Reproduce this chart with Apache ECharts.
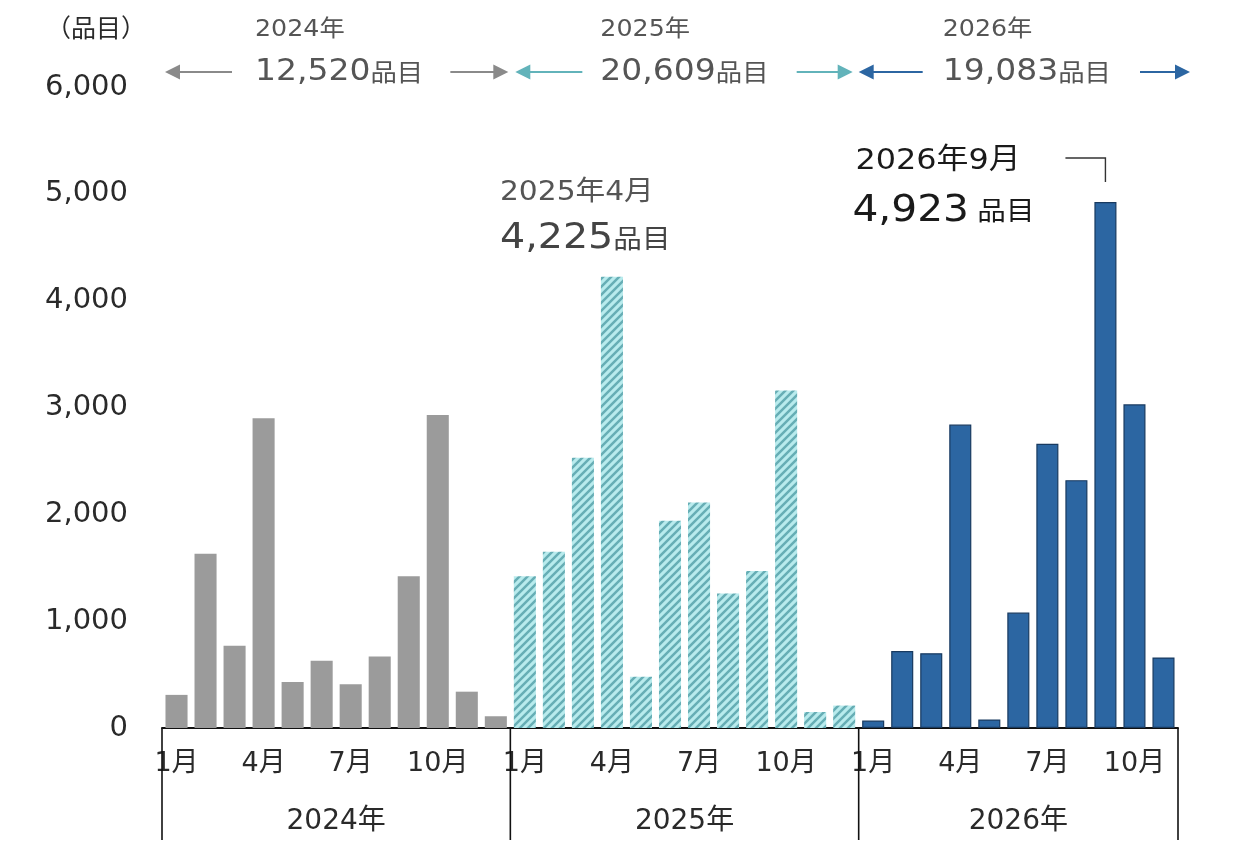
<!DOCTYPE html>
<html>
<head>
<meta charset="utf-8">
<script src="https://cdn.jsdelivr.net/npm/echarts@6/dist/echarts.min.js"></script>
<style>
  html, body { margin: 0; padding: 0; background: #fff; }
  #chart { width: 1240px; height: 864px; }
</style>
</head>
<body>
<div id="chart"></div>
<script>
// Monthly counts (品目)
const years = ["2024年", "2025年", "2026年"];
const yearKeys = ["2024", "2025", "2026"];
const monthLabels = ["1月", "2月", "3月", "4月", "5月", "6月", "7月", "8月", "9月", "10月", "11月", "12月"];
const values2024 = [310, 1630, 770, 2900, 430, 630, 410, 670, 1420, 2930, 340, 110];
const values2025 = [1420, 1650, 2530, 4225, 480, 1940, 2110, 1260, 1470, 3160, 150, 210];
const values2026 = [70, 720, 700, 2840, 80, 1080, 2660, 2320, 4923, 3030, 660];
const yearTotals = ["12,520", "20,609", "19,083"];
const yTicks = { min: 0, max: 6000, interval: 1000 };

// wide latin digits, CJK falls through to Noto
const FONT = '"DejaVu Sans", "Noto Sans CJK JP", sans-serif';
const COLORS = {
  gray: "#9b9b9b",
  grayArrow: "#8a8a8a",
  teal: "#62b3ba",
  tealBase: "#b8ebed",
  tealStripe: "#66aeb5",
  blue: "#2c66a2",
  blueEdge: "#183a60",
  text: "#2a2a2a",
  textGray: "#555",
};
const STRETCH = 1.1; // the reference lettering is a little wider than our fonts

// category keys are unique ("2024-1" ...), labels show the month only
const seriesValues = [values2024, values2025, values2026];
const categories = [];
seriesValues.forEach((vals, y) => {
  vals.forEach((_, m) => categories.push(yearKeys[y] + "-" + (m + 1)));
});

function padded(y) {
  const out = categories.map(() => "-");
  let start = 0;
  for (let i = 0; i < y; i++) start += seriesValues[i].length;
  seriesValues[y].forEach((v, m) => { out[start + m] = v; });
  return out;
}

// diagonal hatch used for the 2025 bars
function hatchPattern() {
  const s = 8;
  const c = document.createElement("canvas");
  c.width = s; c.height = s;
  const ctx = c.getContext("2d");
  ctx.fillStyle = COLORS.tealBase;
  ctx.fillRect(0, 0, s, s);
  ctx.strokeStyle = COLORS.tealStripe;
  ctx.lineWidth = 2.5;
  ctx.beginPath();
  ctx.moveTo(-1, s + 1); ctx.lineTo(s + 1, -1);
  ctx.moveTo(-1, 1); ctx.lineTo(1, -1);
  ctx.moveTo(s - 1, s + 1); ctx.lineTo(s + 1, s - 1);
  ctx.stroke();
  return c;
}

const chart = echarts.init(document.getElementById("chart"));

const barCommon = { type: "bar", stack: "all", barCategoryGap: "24%" };

chart.setOption({
  animation: false,
  textStyle: { fontFamily: FONT },
  grid: { left: 162, right: 62, top: 87, bottom: 136 },
  xAxis: {
    type: "category",
    data: categories,
    axisLine: { lineStyle: { color: "#111", width: 2 } },
    axisTick: { show: false },
    axisLabel: {
      interval: 2,
      margin: 22,
      fontSize: 27,
      color: COLORS.text,
      fontFamily: FONT,
      formatter: (v) => monthLabels[parseInt(v.split("-")[1], 10) - 1],
    },
  },
  yAxis: {
    type: "value",
    min: yTicks.min,
    max: yTicks.max,
    interval: yTicks.interval,
    name: "（品目）",
    nameLocation: "end",
    nameGap: 44,
    nameTextStyle: { fontSize: 25, color: COLORS.text, align: "right", padding: [0, 16, 0, 0], fontFamily: FONT },
    splitLine: { show: false },
    axisLine: { show: false },
    axisTick: { show: false },
    axisLabel: {
      margin: 34,
      fontSize: 29,
      color: COLORS.text,
      fontFamily: FONT,
      formatter: (v) => v.toLocaleString("en-US"),
    },
  },
  series: [
    Object.assign({}, barCommon, { name: years[0], data: padded(0), itemStyle: { color: COLORS.gray } }),
    Object.assign({}, barCommon, { name: years[1], data: padded(1), itemStyle: { color: { image: hatchPattern(), repeat: "repeat" } } }),
    Object.assign({}, barCommon, { name: years[2], data: padded(2), itemStyle: { color: COLORS.blue, borderColor: COLORS.blueEdge, borderWidth: 1.2 } }),
  ],
});

// ---- overlays placed through the axes' own scales ----
const xPx = (i) => chart.convertToPixel({ xAxisIndex: 0 }, categories[i]);
const yPx = (v) => chart.convertToPixel({ yAxisIndex: 0 }, v);
const half = (xPx(1) - xPx(0)) / 2;
const y0 = yPx(0);

const bounds = [];
let idx = 0;
seriesValues.forEach((vals) => { bounds.push(xPx(idx) - half); idx += vals.length; });
bounds.push(xPx(categories.length - 1) + half);

const graphics = [];

function label(x, y, text, style) {
  return {
    type: "text", z: 100, x: x, y: y, scaleX: STRETCH,
    style: Object.assign({ text: text, fontFamily: FONT, align: "left", verticalAlign: "middle" }, style),
  };
}
function richLabel(x, y, num, sep, numSize, unitSize, color) {
  return label(x, y, "{n|" + num + "}" + sep + "{u|品目}", {
    rich: {
      n: { fontSize: numSize, fill: color, fontFamily: FONT },
      u: { fontSize: unitSize, fill: color, fontFamily: FONT, padding: [5, 0, 0, 0] },
    },
  });
}

// year brackets under the axis
bounds.forEach((bx) => {
  graphics.push({
    type: "line", z: 100,
    shape: { x1: bx, y1: y0, x2: bx, y2: y0 + 112 },
    style: { stroke: "#111", lineWidth: 1.6 },
  });
});
years.forEach((text, i) => {
  graphics.push({
    type: "text", z: 100,
    x: (bounds[i] + bounds[i + 1]) / 2, y: y0 + 94,
    style: { text: text, fontSize: 28, fill: COLORS.text, fontFamily: FONT, align: "center", verticalAlign: "middle" },
  });
});

// header arrows with yearly totals
function arrowHead(tipX, y, dir, color) {
  const l = 15, h = 7.5;
  return {
    type: "polygon", z: 100,
    shape: { points: [[tipX, y], [tipX - dir * l, y - h], [tipX - dir * l, y + h]] },
    style: { fill: color },
  };
}
function shaft(x1, x2, y, color) {
  return { type: "line", z: 100, shape: { x1: x1, y1: y, x2: x2, y2: y }, style: { stroke: color, lineWidth: 2.2 } };
}
const arrowY = yPx(yTicks.max) - 15;
const headerColors = [COLORS.grayArrow, COLORS.teal, COLORS.blue];
const headerSpec = [
  // offsets from the year's bounds: left tip, left shaft end, right shaft start, right tip, text left
  { lt: 3, le: 70, rs: -60, rt: -2, tx: 93 },
  { lt: 5, le: 72, rs: -62, rt: -6, tx: 90 },
  { lt: 0, le: 64, rs: -38, rt: 12, tx: 84 },
];
headerSpec.forEach((s, i) => {
  const a = bounds[i], b = bounds[i + 1], c = headerColors[i];
  graphics.push(arrowHead(a + s.lt, arrowY, -1, c));
  graphics.push(shaft(a + s.lt + 14, a + s.le, arrowY, c));
  graphics.push(shaft(b + s.rs, b + s.rt - 14, arrowY, c));
  graphics.push(arrowHead(b + s.rt, arrowY, 1, c));
  graphics.push(label(a + s.tx, arrowY - 42, years[i], { fontSize: 23, fill: COLORS.textGray }));
  graphics.push(richLabel(a + s.tx, arrowY, yearTotals[i], "", 30, 24, COLORS.textGray));
});

// peak callouts
const peak2025 = values2024.length + 3;
const peak2026 = values2024.length + values2025.length + 8;
const p25x = xPx(peak2025), p25y = yPx(values2025[3]);
graphics.push(label(p25x - 112, p25y - 84, "2025年4月", { fontSize: 27, fill: COLORS.textGray }));
graphics.push(richLabel(p25x - 112, p25y - 38, values2025[3].toLocaleString("en-US"), "", 36, 26, "#444"));

const p26x = xPx(peak2026), p26y = yPx(values2026[8]);
graphics.push(label(p26x - 250, p26y - 41, "2026年9月", { fontSize: 29, fill: "#1a1a1a" }));
graphics.push(richLabel(p26x - 253, p26y + 9, values2026[8].toLocaleString("en-US"), "  ", 37, 26, "#1a1a1a"));
graphics.push({
  type: "polyline", z: 100,
  shape: { points: [[p26x - 40, p26y - 44], [p26x, p26y - 44], [p26x, p26y - 20]] },
  style: { stroke: "#333", lineWidth: 1.4, fill: null },
});

chart.setOption({ graphic: graphics });
</script>
</body>
</html>
